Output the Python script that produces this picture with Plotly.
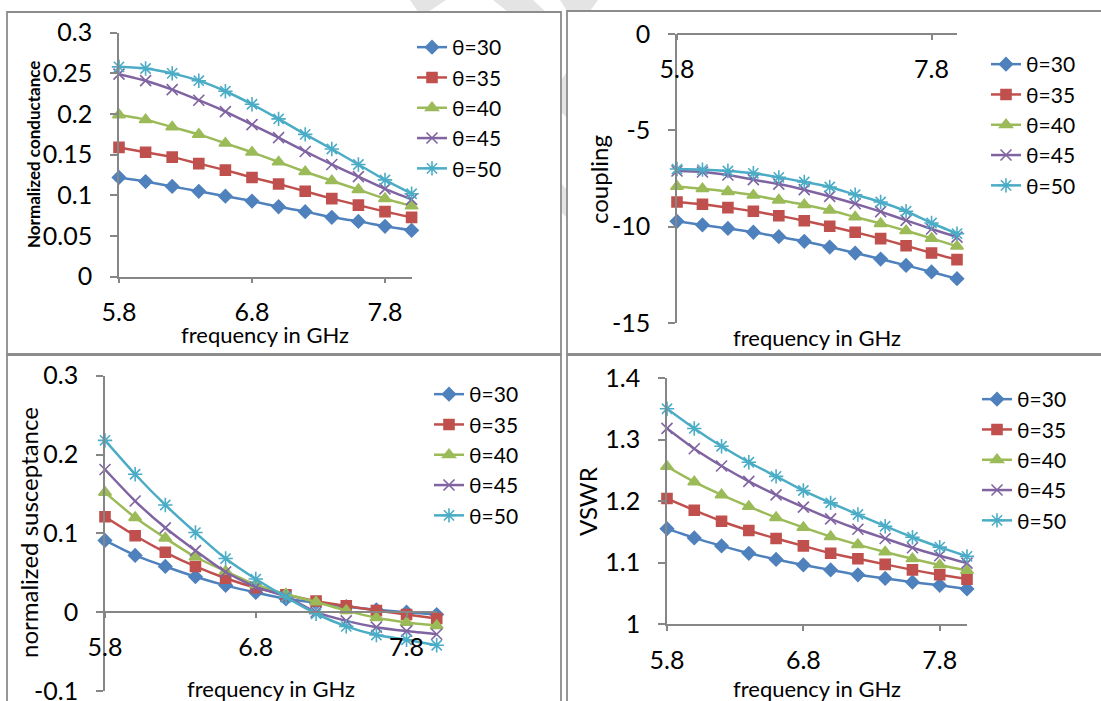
import plotly.graph_objects as go

# frequency points (GHz)
freq = [5.8, 6.0, 6.2, 6.4, 6.6, 6.8, 7.0, 7.2, 7.4, 7.6, 7.8, 8.0]
names = ["θ=30", "θ=35", "θ=40", "θ=45", "θ=50"]

# normalized conductance
g30 = [0.122, 0.117, 0.111, 0.105, 0.099, 0.093, 0.086, 0.080, 0.073, 0.068, 0.062, 0.057]
g35 = [0.159, 0.153, 0.147, 0.139, 0.131, 0.122, 0.114, 0.105, 0.096, 0.088, 0.080, 0.073]
g40 = [0.199, 0.193, 0.184, 0.175, 0.164, 0.153, 0.141, 0.129, 0.118, 0.107, 0.096, 0.087]
g45 = [0.249, 0.241, 0.230, 0.217, 0.203, 0.187, 0.171, 0.154, 0.138, 0.123, 0.108, 0.095]
g50 = [0.258, 0.256, 0.250, 0.241, 0.228, 0.212, 0.194, 0.175, 0.157, 0.138, 0.119, 0.102]

# coupling
c30 = [-9.72, -9.91, -10.09, -10.29, -10.52, -10.76, -11.06, -11.37, -11.68, -12.01, -12.35, -12.70]
c35 = [-8.72, -8.84, -9.01, -9.20, -9.43, -9.69, -9.98, -10.29, -10.62, -10.99, -11.37, -11.71]
c40 = [-7.91, -8.03, -8.18, -8.37, -8.62, -8.86, -9.15, -9.50, -9.84, -10.21, -10.61, -11.02]
c45 = [-7.11, -7.16, -7.32, -7.56, -7.79, -8.08, -8.43, -8.81, -9.22, -9.67, -10.12, -10.54]
c50 = [-7.01, -7.04, -7.11, -7.23, -7.44, -7.68, -7.94, -8.34, -8.72, -9.20, -9.81, -10.36]

# normalized susceptance
b30 = [0.091, 0.072, 0.058, 0.045, 0.034, 0.025, 0.017, 0.012, 0.007, 0.003, 0.000, -0.003]
b35 = [0.121, 0.097, 0.076, 0.058, 0.043, 0.031, 0.022, 0.014, 0.008, 0.002, -0.003, -0.008]
b40 = [0.152, 0.120, 0.094, 0.070, 0.052, 0.035, 0.023, 0.013, 0.002, -0.007, -0.013, -0.017]
b45 = [0.181, 0.141, 0.107, 0.078, 0.051, 0.032, 0.020, 0.000, -0.011, -0.019, -0.024, -0.028]
b50 = [0.218, 0.175, 0.136, 0.101, 0.068, 0.042, 0.019, -0.002, -0.018, -0.029, -0.035, -0.042]

# VSWR
v30 = [1.155, 1.140, 1.127, 1.115, 1.105, 1.096, 1.088, 1.080, 1.074, 1.068, 1.063, 1.057]
v35 = [1.204, 1.185, 1.167, 1.152, 1.139, 1.127, 1.115, 1.106, 1.097, 1.088, 1.080, 1.073]
v40 = [1.256, 1.231, 1.210, 1.191, 1.173, 1.157, 1.142, 1.129, 1.117, 1.106, 1.096, 1.087]
v45 = [1.318, 1.285, 1.257, 1.232, 1.210, 1.190, 1.171, 1.154, 1.139, 1.124, 1.111, 1.099]
v50 = [1.350, 1.318, 1.289, 1.263, 1.240, 1.217, 1.197, 1.178, 1.159, 1.141, 1.125, 1.110]

# y tick values / labels
g_ticks = [0, 0.05, 0.1, 0.15, 0.2, 0.25, 0.3]
g_labels = ["0", "0.05", "0.1", "0.15", "0.2", "0.25", "0.3"]
c_ticks = [-15, -10, -5, 0]
c_labels = ["-15", "-10", "-5", "0"]
b_ticks = [-0.1, 0, 0.1, 0.2, 0.3]
b_labels = ["-0.1", "0", "0.1", "0.2", "0.3"]
v_ticks = [1, 1.1, 1.2, 1.3, 1.4]
v_labels = ["1", "1.1", "1.2", "1.3", "1.4"]

colors = ["#4F81BD", "#C0504D", "#9BBB59", "#8064A2", "#4BACC6"]
symbols = ["diamond", "square", "triangle-up", "x-thin-open", "asterisk-open"]
msizes = [10, 10, 11, 11, 12]

W, H = 1101, 701
FONT = "Lato, Carlito, Calibri, sans-serif"
AXC = "#868686"


def fx(p):
    return p / W


def fy(p):
    return 1 - p / H


# layout of each chart in pixels: plot area, legend, titles, border
panels = [
    dict(series=[g30, g35, g40, g45, g50], yrange=[0, 0.3], ticks=(g_ticks, g_labels),
         xpx=(119, 411.6), ypx=(32.7, 276.7), xcross=None, xticks=[5.8, 6.8, 7.8],
         ytitle="<b>Normalized conductance</b>", ytsize=17, ytpos=(33, 155),
         xtpos=(265, 335), leg=(412, 27), box=(7, 12, 561, 354)),
    dict(series=[c30, c35, c40, c45, c50], yrange=[-15, 0], ticks=(c_ticks, c_labels),
         xpx=(677, 957), ypx=(34, 323), xcross=0, xticks=[5.8, 7.8],
         ytitle="coupling", ytsize=24, ytpos=(598, 180),
         xtpos=(817, 337), leg=(986, 44), box=(567, 11, 1103, 354)),
    dict(series=[b30, b35, b40, b45, b50], yrange=[-0.1, 0.3], ticks=(b_ticks, b_labels),
         xpx=(105, 436.7), ypx=(375.7, 691), xcross=0, xticks=[5.8, 6.8, 7.8],
         ytitle="normalized susceptance", ytsize=24, ytpos=(28, 533),
         xtpos=(271, 688), leg=(429, 374), box=(7, 355, 561, 703)),
    dict(series=[v30, v35, v40, v45, v50], yrange=[1, 1.4], ticks=(v_ticks, v_labels),
         xpx=(667, 967), ypx=(378, 624), xcross=None, xticks=[5.8, 6.8, 7.8],
         ytitle="VSWR", ytsize=24, ytpos=(588, 502),
         xtpos=(817, 688), leg=(977, 379), box=(567, 355, 1103, 703)),
]

fig = go.Figure()
annotations = []
shapes = []

# faint watermark strokes showing in the gaps
watermark = [
    [(410, 0), (446, 0), (428, 12), (418, 12)],
    [(493, 0), (533, 0), (546, 12), (508, 12)],
    [(560, 0), (598, 0), (590, 11), (567, 11)],
    [(561, 80), (567, 72), (567, 118), (561, 112)],
    [(561, 183), (567, 190), (567, 218), (561, 212)],
]
for poly in watermark:
    path = "M " + " L ".join(f"{fx(a)},{fy(b)}" for a, b in poly) + " Z"
    shapes.append(dict(type="path", xref="paper", yref="paper", path=path,
                       fillcolor="#E4E4E4", line=dict(width=0), layer="below"))

for i, p in enumerate(panels):
    k = "" if i == 0 else str(i + 1)
    legname = "legend" if i == 0 else f"legend{i + 1}"
    for j, ys in enumerate(p["series"]):
        fig.add_trace(go.Scatter(
            x=freq, y=ys, name=names[j], mode="lines+markers",
            xaxis="x" + k, yaxis="y" + k, legend=legname, cliponaxis=False,
            line=dict(color=colors[j], width=2.5, shape="spline", smoothing=0.6),
            marker=dict(symbol=symbols[j], size=msizes[j], color=colors[j],
                        line=dict(color=colors[j], width=1.6)),
        ))

    y0, y1 = p["yrange"]
    ydom = [fy(p["ypx"][1]), fy(p["ypx"][0])]
    xax = dict(domain=[fx(p["xpx"][0]), fx(p["xpx"][1])], range=[5.8, 8.0],
               tickvals=p["xticks"], ticktext=[f"{t:.1f}" for t in p["xticks"]],
               showline=True, linecolor=AXC, linewidth=1.5, ticks="outside",
               ticklen=5, tickcolor=AXC, tickwidth=1.5, showgrid=False,
               zeroline=False, ticklabelstandoff=8, automargin=False,
               ticklabeloverflow="allow",
               tickfont=dict(family=FONT, size=25, color="#000"))
    if p["xcross"] is None:
        xax["anchor"] = "y" + k
    else:
        pos = ydom[0] + (p["xcross"] - y0) / (y1 - y0) * (ydom[1] - ydom[0])
        xax["anchor"] = "free"
        xax["position"] = pos
        xax["side"] = "bottom"
    yax = dict(domain=ydom, range=[y0, y1], anchor="x" + k,
               tickvals=p["ticks"][0], ticktext=p["ticks"][1],
               showline=True, linecolor=AXC, linewidth=1.5, ticks="outside",
               ticklen=7, tickcolor=AXC, tickwidth=1.5, showgrid=False,
               zeroline=False, ticklabelstandoff=13, automargin=False,
               ticklabeloverflow="allow",
               tickfont=dict(family=FONT, size=25, color="#000"))
    fig.layout["xaxis" + k] = xax
    fig.layout["yaxis" + k] = yax

    fig.layout[legname] = dict(x=fx(p["leg"][0]), y=fy(p["leg"][1]),
                               xanchor="left", yanchor="top",
                               font=dict(family=FONT, size=21, color="#000"),
                               bgcolor="rgba(0,0,0,0)", itemwidth=30)

    annotations.append(dict(text="frequency in GHz", xref="paper", yref="paper",
                            x=fx(p["xtpos"][0]), y=fy(p["xtpos"][1]),
                            showarrow=False, xanchor="center", yanchor="middle",
                            font=dict(family=FONT, size=22, color="#000")))
    annotations.append(dict(text=p["ytitle"], xref="paper", yref="paper",
                            x=fx(p["ytpos"][0]), y=fy(p["ytpos"][1]), textangle=-90,
                            showarrow=False, xanchor="center", yanchor="middle",
                            font=dict(family=FONT, size=p["ytsize"], color="#000")))

    bx0, by0, bx1, by1 = p["box"]
    shapes.append(dict(type="rect", xref="paper", yref="paper",
                       x0=fx(bx0), x1=fx(bx1), y0=fy(by1), y1=fy(by0),
                       line=dict(color="#8C8C8C", width=1.8), layer="below"))

fig.update_layout(width=W, height=H, margin=dict(l=0, r=0, t=0, b=0, autoexpand=False),
                  paper_bgcolor="white", plot_bgcolor="rgba(0,0,0,0)",
                  annotations=annotations, shapes=shapes, showlegend=True)

# page body has a default 8px margin; drop it so the figure sits at the origin
fig.write_html("out.html", config={"displayModeBar": False},
               post_script="document.body.style.margin='0px';")
